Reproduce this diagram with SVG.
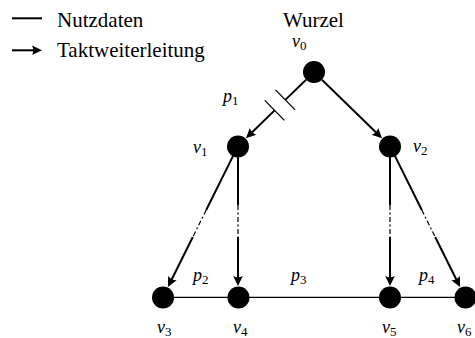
<svg xmlns="http://www.w3.org/2000/svg" width="475" height="338" viewBox="0 0 475 338">
<style>
.txt{font-family:'Liberation Serif','Times New Roman',serif;font-size:21px;fill:#000}
.m{font-family:'Liberation Serif','Times New Roman',serif;font-style:italic;font-size:18px;fill:#000}
.s{font-style:normal;font-size:13px}
.e{fill:none;stroke:#000;stroke-width:2}
.d{fill:none;stroke:#000;stroke-width:1.2;stroke-dasharray:5 2.5 2 2.5}
.b{fill:none;stroke:#000;stroke-width:1.3}
.n{fill:#000}
</style>
<defs>
<marker id="ar" viewBox="-8 -6 14 12" refX="0" refY="0" markerWidth="14" markerHeight="12" markerUnits="userSpaceOnUse" orient="auto">
<path d="M4,0 L-6,-4.8 Q-3.5,0 -6,4.8 Z" fill="#000"/>
</marker>
</defs>
<g id="legend">
<line class="e" x1="12" y1="18.3" x2="42" y2="18.3"/>
<text class="txt" x="57" y="26.5">Nutzdaten</text>
<line class="e" x1="12" y1="50.3" x2="38" y2="50.3" marker-end="url(#ar)"/>
<text class="txt" x="57" y="57.3">Taktweiterleitung</text>
</g>
<g id="connectors">
<path class="e" d="M306.1,79.7 L285.3,99.9"/>
<path class="e" d="M274.6,110.4 L248.8,135.5" marker-end="url(#ar)"/>
<line class="b" x1="275.5" y1="89.9" x2="295.1" y2="109.9"/>
<line class="b" x1="264.8" y1="100.4" x2="284.4" y2="120.4"/>
<path class="e" d="M321.9,79.7 L379.2,135.5" marker-end="url(#ar)"/>
<path class="e" d="M233.1,155.9 L206.2,210"/>
<path class="d" d="M206.2,210 L192.8,237"/>
<path class="e" d="M192.8,237 L169.7,283.5" marker-end="url(#ar)"/>
<path class="e" d="M238,157 L238,205"/>
<path class="d" d="M238,205 L238,237"/>
<path class="e" d="M238,237 L238,282" marker-end="url(#ar)"/>
<path class="e" d="M390,157 L390,205"/>
<path class="d" d="M390,205 L390,237"/>
<path class="e" d="M390,237 L390,282" marker-end="url(#ar)"/>
<path class="e" d="M394.9,155.9 L421.8,210"/>
<path class="d" d="M421.8,210 L435.2,237"/>
<path class="e" d="M435.2,237 L458.3,283.5" marker-end="url(#ar)"/>
<line class="b" x1="163" y1="297.3" x2="238" y2="297.3"/>
<line class="b" x1="238" y1="297.3" x2="390" y2="297.3"/>
<line class="b" x1="390" y1="297.3" x2="465" y2="297.3"/>
<text class="m" x="223" y="101.5">p<tspan class="s" dy="3">1</tspan></text>
<text class="m" x="193" y="281">p<tspan class="s" dy="3">2</tspan></text>
<text class="m" x="291" y="281">p<tspan class="s" dy="3">3</tspan></text>
<text class="m" x="419" y="281">p<tspan class="s" dy="3">4</tspan></text>
</g>
<g id="v0">
<text class="txt" x="283" y="26.5">Wurzel</text>
<circle class="n" cx="314" cy="72" r="11"/>
<text class="m" x="292" y="47.3">v<tspan class="s" dy="3">0</tspan></text>
</g>
<g id="v1">
<circle class="n" cx="238" cy="146.5" r="11"/>
<text class="m" x="193" y="153">v<tspan class="s" dy="3">1</tspan></text>
</g>
<g id="v2">
<circle class="n" cx="390" cy="146.5" r="11"/>
<text class="m" x="413" y="152">v<tspan class="s" dy="3">2</tspan></text>
</g>
<g id="v3">
<circle class="n" cx="163" cy="297.5" r="11"/>
<text class="m" x="157" y="333">v<tspan class="s" dy="3">3</tspan></text>
</g>
<g id="v4">
<circle class="n" cx="238.5" cy="297.5" r="11"/>
<text class="m" x="233" y="333">v<tspan class="s" dy="3">4</tspan></text>
</g>
<g id="v5">
<circle class="n" cx="390" cy="297.5" r="11"/>
<text class="m" x="382" y="333">v<tspan class="s" dy="3">5</tspan></text>
</g>
<g id="v6">
<circle class="n" cx="465.5" cy="297.5" r="11"/>
<text class="m" x="457" y="333">v<tspan class="s" dy="3">6</tspan></text>
</g>
</svg>
